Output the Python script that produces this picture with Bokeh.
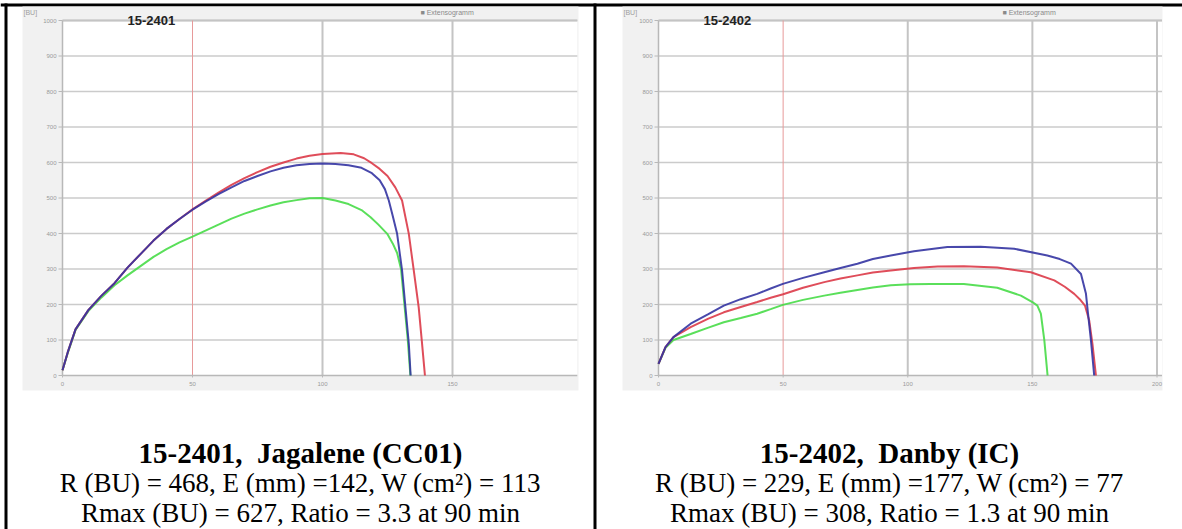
from bokeh.plotting import figure
from bokeh.models import Range1d
from bokeh.core.properties import value
from bokeh.embed import file_html
from bokeh.resources import INLINE

# ---------------------------------------------------------------
# Extensograph curves: extension (mm) against resistance (BU)
# ---------------------------------------------------------------

# 15-2401, Jagalene (CC01)
s2401_red_x = [0, 2, 5, 10, 15, 20, 25, 30, 35, 40, 45, 50, 55, 60, 65, 70, 75, 80,
               85, 90, 95, 100, 107, 112, 116, 119, 122, 125, 128, 130.6, 133.2,
               135.1, 137, 138.3, 139.4]
s2401_red_y = [15, 65, 130, 185, 225, 260, 304, 342, 380, 413, 441, 468, 492, 515,
               537, 556, 573, 588, 600, 611, 619, 624, 627, 623, 612, 598, 582, 562,
               530, 493, 399, 296, 192, 89, 0]

s2401_blue_x = [0, 2, 5, 10, 15, 20, 25, 30, 35, 40, 45, 50, 55, 60, 65, 70, 75, 80,
                85, 90, 95, 100, 105, 110, 115, 119, 122, 124, 125.5, 127, 128.7,
                130.6, 131.9, 133.2, 133.9]
s2401_blue_y = [15, 65, 130, 185, 225, 260, 304, 342, 380, 413, 441, 467, 490, 511,
                530, 548, 562, 575, 585, 592, 596, 597, 596, 592, 585, 570, 550, 525,
                493, 450, 399, 296, 192, 89, 0]

s2401_green_x = [0, 2, 5, 10, 15, 20, 25, 30, 35, 40, 45, 50, 55, 60, 65, 70, 75, 80,
                 85, 90, 95, 100, 105, 110, 115, 118.5, 121.5, 124.9, 127, 128.7,
                 130.2, 131.5, 132.8, 133.8]
s2401_green_y = [15, 63, 128, 182, 220, 254, 282, 308, 334, 356, 375, 391, 408, 425,
                 442, 456, 468, 479, 488, 494, 499, 500, 493, 483, 466, 446, 425, 399,
                 372, 345, 300, 200, 100, 0]

# 15-2402, Danby (IC)
s2402_red_x = [0, 2.8, 6, 12.9, 20, 26.2, 33, 39.6, 45, 50, 58, 66.5, 73, 79.8, 86,
               93.2, 102.5, 112, 122.5, 135.9, 149.4, 158.8, 163, 166.8, 169, 171.1,
               172.8, 174.1, 175.5]
s2402_red_y = [33, 80, 108, 136, 160, 178, 193, 207, 219, 229, 247, 263, 273, 282,
               290, 296, 303, 307, 308, 304, 291, 268, 250, 230, 215, 197, 155, 89, 0]

s2402_blue_x = [0, 2.8, 6, 12.9, 20, 26.2, 33, 39.6, 45, 49.9, 58, 66.5, 73, 79.8, 86,
                93.2, 102.5, 115.9, 129.3, 142.7, 156, 161, 165.5, 169.5, 171.5, 172.2,
                173.5, 174.8]
s2402_blue_y = [33, 80, 108, 146, 173, 197, 215, 230, 245, 258, 275, 291, 303, 315,
                328, 338, 350, 362, 363, 357, 338, 328, 315, 286, 230, 183, 99, 0]

s2402_green_x = [0, 2.8, 6, 12.9, 20, 26.2, 33, 39.6, 45, 49.9, 58, 66.5, 73, 79.8, 86,
                 93.2, 101, 109.2, 122.5, 135.9, 145.4, 150, 152, 153.4, 154.8, 156.1]
s2402_green_y = [33, 78, 100, 117, 135, 150, 162, 174, 187, 199, 213, 225, 233, 241,
                 248, 254, 257, 258, 258, 247, 225, 207, 197, 174, 99, 0]

# Axis ticks
x_ticks = [0, 50, 100, 150, 200]
x_grid_ticks = [100, 150, 200]
y_ticks = [0, 100, 200, 300, 400, 500, 600, 700, 800, 900, 1000]
marker_mm = 50          # red reference line

# Sample identifiers and result captions
sample_ids = ["15-2401", "15-2402"]
sample_names = ["15-2401,\u00a0 Jagalene (CC01)", "15-2402,\u00a0 Danby (IC)"]
result_lines_1 = ["R (BU) = 468, E (mm) =142, W (cm\u00b2) = 113",
                  "R (BU) = 229, E (mm) =177, W (cm\u00b2) = 77"]
result_lines_2 = ["Rmax (BU) = 627, Ratio = 3.3 at 90 min",
                  "Rmax (BU) = 308, Ratio = 1.3 at 90 min"]

RED = "#dc3a48"
BLUE = "#3434a2"
GREEN = "#48dc48"
BAND = "#f1f1f1"
GRID = "#cbcbcb"
VGRID = "#c4c4c4"
AXIS = "#b8b8b8"
TICK_TXT = "#9a9a9a"

W, H = 1182, 529
SANS = value("Liberation Sans")
SERIF = value("Liberation Serif")

# Page canvas: pixel coordinates, y counted from the top
p = figure(width=W, height=H, x_range=Range1d(0, W), y_range=Range1d(H, 0),
           min_border=0, toolbar_location=None, output_backend="svg",
           x_axis_location=None, y_axis_location=None, outline_line_color=None,
           background_fill_color="white", border_fill_color="white")
p.grid.visible = False

# Sheet frame lines
p.quad(left=[0, 4, 593], right=[W, 7, 596], top=[3, 3, 3], bottom=[6, H, H],
       fill_color="black", line_color=None)

# Panel geometry (pixels): chart band, plot origin and scale, caption centre
panels = [
    dict(band=(22, 578), origin=(62, 375), px_mm=2.6, x_max=198, title_x=127,
         legend_x=420, cap_x=300,
         curves=[(s2401_green_x, s2401_green_y, GREEN),
                 (s2401_red_x, s2401_red_y, RED),
                 (s2401_blue_x, s2401_blue_y, BLUE)]),
    dict(band=(622, 1162), origin=(658, 375), px_mm=2.4925, x_max=202, title_x=703,
         legend_x=1002, cap_x=889,
         curves=[(s2402_green_x, s2402_green_y, GREEN),
                 (s2402_red_x, s2402_red_y, RED),
                 (s2402_blue_x, s2402_blue_y, BLUE)]),
]
PX_BU = 0.355
BAND_TOP, BAND_BOTTOM = 6, 390

for i, cfg in enumerate(panels):
    ox, oy = cfg["origin"]
    xs0 = -ox / cfg["px_mm"]
    ys0 = -(H - oy) / PX_BU
    xn, yn = f"mm{i}", f"bu{i}"
    p.extra_x_ranges[xn] = Range1d(xs0, xs0 + W / cfg["px_mm"])
    p.extra_y_ranges[yn] = Range1d(ys0, ys0 + H / PX_BU)
    on = dict(x_range_name=xn, y_range_name=yn)
    x_max = cfg["x_max"]

    # grey band behind the chart and the white plotting area
    p.quad(left=[cfg["band"][0]], right=[cfg["band"][1]], top=[BAND_TOP],
           bottom=[BAND_BOTTOM], fill_color=BAND, line_color=None)
    p.quad(left=[0], right=[x_max], bottom=[0], top=[1000], fill_color="white",
           line_color=None, **on)

    # grid
    gy = y_ticks[1:]
    p.segment(x0=[0] * len(gy), x1=[x_max] * len(gy), y0=gy, y1=gy,
              line_color=GRID, line_width=1.5, **on)
    p.segment(x0=[0], x1=[x_max], y0=[y_ticks[-1]], y1=[y_ticks[-1]],
              line_color=VGRID, line_width=2, **on)
    gx = [t for t in x_grid_ticks if t <= x_max]
    p.segment(x0=gx, x1=gx, y0=[0] * len(gx), y1=[y_ticks[-1]] * len(gx),
              line_color=VGRID, line_width=2, **on)
    p.segment(x0=[marker_mm], x1=[marker_mm], y0=[0], y1=[y_ticks[-1]],
              line_color="#e79a9a", line_width=1, **on)

    # axes
    p.segment(x0=[0, 0], x1=[0, x_max], y0=[0, 0], y1=[y_ticks[-1], 0],
              line_color=AXIS, line_width=1.5, **on)
    p.ray(x=[0] * len(y_ticks), y=y_ticks, length=4, length_units="screen",
          angle=180, angle_units="deg", line_color=AXIS, line_width=1, **on)
    xt = [t for t in x_ticks if t <= x_max]
    p.ray(x=xt, y=[0] * len(xt), length=2, length_units="screen",
          angle=270, angle_units="deg", line_color=AXIS, line_width=1, **on)
    p.text(x=[0] * len(y_ticks), y=y_ticks, text=[str(t) for t in y_ticks],
           x_offset=-6, text_align="right", text_baseline="middle",
           text_font=SANS, text_font_size="6px", text_color=TICK_TXT, **on)
    p.text(x=xt, y=[0] * len(xt), text=[str(t) for t in xt], y_offset=8,
           text_align="center", text_baseline="middle",
           text_font=SANS, text_font_size="6px", text_color=TICK_TXT, **on)

    # curves
    for cx, cy, color in cfg["curves"]:
        p.line(cx, cy, line_color=color, line_width=2, line_alpha=0.9, **on)

    # chart header
    bx = cfg["band"][0]
    p.text(x=[bx + 1], y=[11.5], text=["[BU]"], text_font=SANS, text_font_size="7px",
           text_color="#a0a0a0", text_baseline="middle")
    p.text(x=[cfg["title_x"]], y=[19.5], text=[sample_ids[i]],
           text_font=SANS, text_font_style="bold",
           text_font_size="13px", text_color="#222222", text_baseline="alphabetic")
    p.text(x=[cfg["legend_x"]], y=[12], text=["\u25a0 Extensogramm"], text_font=SANS,
           text_font_size="7px", text_color="#8a8a8a", text_baseline="middle")

    # caption
    cxp = cfg["cap_x"]
    p.text(x=[cxp], y=[452], text=[sample_names[i]], text_font=SERIF,
           text_font_style="bold", text_font_size="29px", text_color="black",
           text_align="center", text_baseline="alphabetic")
    p.text(x=[cxp, cxp], y=[482, 512], text=[result_lines_1[i], result_lines_2[i]],
           text_font=SERIF, text_font_size="27px", text_color="black",
           text_align="center", text_baseline="alphabetic")

with open("out.html", "w") as f:
    f.write(file_html(p, INLINE))
